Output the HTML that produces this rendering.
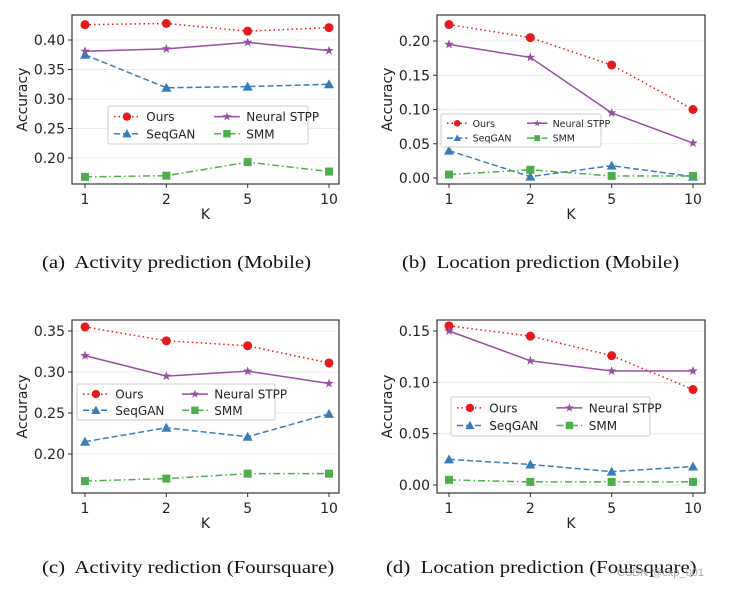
<!DOCTYPE html>
<html><head><meta charset="utf-8"><style>
body{margin:0;background:#fff;width:730px;height:591px;overflow:hidden;position:relative}
svg{position:absolute;left:0;top:0}
.cap{position:absolute;font-family:"Liberation Serif",serif;font-size:18px;color:#111;white-space:nowrap;transform:scaleX(1.155);transform-origin:0 0}
</style></head><body>
<svg id="chart" width="730" height="591"></svg>
<div class="cap" style="left:42px;top:252px">(a)&nbsp; Activity prediction (Mobile)</div>
<div class="cap" style="left:402px;top:252px">(b)&nbsp; Location prediction (Mobile)</div>
<div class="cap" style="left:42px;top:557px">(c)&nbsp; Activity rediction (Foursquare)</div>
<div class="cap" style="left:386px;top:557px">(d)&nbsp; Location prediction (Foursquare)</div>
<div style="position:absolute;left:617px;top:567px;font-family:'Liberation Sans',sans-serif;font-size:11px;color:#aaa">CSDN @cxp_001</div>
<script>
const categories = ["1","2","5","10"];
const seriesNames = ["Ours","SeqGAN","Neural STPP","SMM"];
const oursA=[0.426,0.428,0.415,0.421], seqA=[0.375,0.319,0.321,0.325], stppA=[0.381,0.385,0.396,0.382], smmA=[0.168,0.170,0.193,0.177];
const oursB=[0.224,0.205,0.165,0.100], seqB=[0.040,0.002,0.018,0.002], stppB=[0.195,0.176,0.095,0.051], smmB=[0.005,0.012,0.003,0.003];
const oursC=[0.355,0.338,0.332,0.311], seqC=[0.215,0.232,0.221,0.249], stppC=[0.320,0.295,0.301,0.286], smmC=[0.167,0.170,0.176,0.176];
const oursD=[0.155,0.145,0.126,0.093], seqD=[0.025,0.020,0.013,0.018], stppD=[0.150,0.121,0.111,0.111], smmD=[0.005,0.003,0.003,0.003];
const ticksA=[0.20,0.25,0.30,0.35,0.40], ticksB=[0.00,0.05,0.10,0.15,0.20], ticksC=[0.20,0.25,0.30,0.35], ticksD=[0.00,0.05,0.10,0.15];

const NS="http://www.w3.org/2000/svg";
const svg=document.getElementById('chart');
function mk(tag,attrs,parent){const e=document.createElementNS(NS,tag);for(const k in attrs)e.setAttribute(k,attrs[k]);(parent||svg).appendChild(e);return e;}
const styles=[
 {c:"#e41a1c",dash:"1.5,3",m:"circle"},
 {c:"#377eb8",dash:"6,3",m:"tri"},
 {c:"#984ea3",dash:"",m:"star"},
 {c:"#4daf4a",dash:"7,3,1.5,3",m:"sq"}];
function marker(g,type,x,y,c,s){
 if(type==="circle")return mk('circle',{cx:x,cy:y,r:4.5*s,fill:c},g);
 if(type==="sq")return mk('rect',{x:x-4*s,y:y-4*s,width:8*s,height:8*s,fill:c},g);
 if(type==="tri")return mk('polygon',{points:`${x},${y-5*s} ${x-5*s},${y+4*s} ${x+5*s},${y+4*s}`,fill:c},g);
 let p=[];for(let i=0;i<10;i++){const r=i%2?2*s:5*s,a=-Math.PI/2+i*Math.PI/5;p.push((x+r*Math.cos(a)).toFixed(1)+","+(y+r*Math.sin(a)).toFixed(1));}
 return mk('polygon',{points:p.join(" "),fill:c},g);
}
function panel(id,box,xs,yRef,ticks,series,leg){
 const g=mk('g',{});
 
 
 const [x0,y0,x1,y1]=box;
 const yv=v=>yRef.p0+(v-yRef.v0)*(yRef.p1-yRef.p0)/(yRef.v1-yRef.v0);
 const xv=i=>xs[0]+i*(xs[1]-xs[0])/3;
 ticks.forEach(t=>{const y=yv(t);
  const gl=mk('line',{x1:x0,x2:x1,y1:y,y2:y,stroke:"#e6e6e6","stroke-width":0.8},g);
  
  mk('line',{x1:x0-4,x2:x0,y1:y,y2:y,stroke:"#333"},g);
  const tx=mk('text',{x:x0-7,y:y+5,"text-anchor":"end","font-size":14,"font-family":"DejaVu Sans, sans-serif",fill:"#222"},g);tx.textContent=t.toFixed(2);
  });
 categories.forEach((c,i)=>{const x=xv(i);
  mk('line',{x1:x,x2:x,y1:y1,y2:y1+4,stroke:"#333"},g);
  const tx=mk('text',{x:x,y:y1+20,"text-anchor":"middle","font-size":14,"font-family":"DejaVu Sans, sans-serif",fill:"#222"},g);tx.textContent=c;
  });
 const xl=mk('text',{x:(x0+x1)/2,y:y1+35,"text-anchor":"middle","font-size":14,"font-family":"DejaVu Sans, sans-serif",fill:"#222"},g);xl.textContent="K";
 
 const yl=mk('text',{x:0,y:0,transform:`translate(${x0-45},${(y0+y1)/2}) rotate(-90)`,"text-anchor":"middle","font-size":14,"font-family":"DejaVu Sans, sans-serif",fill:"#222"},g);yl.textContent="Accuracy";
 
 series.forEach((vals,si)=>{const st=styles[si];
  const sg=mk('g',{},g);
  
  
  mk('polyline',{points:vals.map((v,i)=>xv(i)+","+yv(v)).join(" "),fill:"none",stroke:st.c,"stroke-width":1.5,"stroke-dasharray":st.dash},sg);
  vals.forEach((v,i)=>{const m=marker(sg,st.m,xv(i),yv(v),st.c,1);});
 });
 const fr=mk('rect',{x:x0,y:y0,width:x1-x0,height:y1-y0,fill:"none",stroke:"#333","stroke-width":1.2},g);
 
 const [lx,ly,lw,lh,fs]=leg;const s=fs/13;
 const lg=mk('g',{},g);
 
 mk('rect',{x:lx,y:ly,width:lw,height:lh,fill:"#fff",stroke:"#ccc",rx:2},lg);
 seriesNames.forEach((n,si)=>{const st=styles[si];const col=si>=2?1:0,row=si%2;
  const ex=lx+6+col*lw*0.5,ey=ly+lh*0.28+row*lh*0.45;
  const e=mk('g',{},lg);
  mk('line',{x1:ex,x2:ex+28*s,y1:ey,y2:ey,stroke:st.c,"stroke-width":1.5,"stroke-dasharray":st.dash},e);
  marker(e,st.m,ex+14*s,ey,st.c,s);
  const t=mk('text',{x:ex+35*s,y:ey+fs*0.38,"font-size":fs,"font-family":"DejaVu Sans, sans-serif",fill:"#222"},e);t.textContent=n;});
}
panel('a',[72,15,339,184],[85,329],{v0:0.40,p0:40,v1:0.20,p1:158},ticksA,[oursA,seqA,stppA,smmA],[108,106,200,38,12]);
panel('b',[437,15,705,184],[449,693],{v0:0.20,p0:41,v1:0.00,p1:178},ticksB,[oursB,seqB,stppB,smmB],[441,114,160,33,9.5]);
panel('c',[72,320,339,493],[85,329],{v0:0.35,p0:331,v1:0.20,p1:454},ticksC,[oursC,seqC,stppC,smmC],[77,384,198,36,12]);
panel('d',[437,320,705,493],[449,693],{v0:0.15,p0:331,v1:0.00,p1:485},ticksD,[oursD,seqD,stppD,smmD],[451,397,199,39,12]);
</script>
</body></html>
